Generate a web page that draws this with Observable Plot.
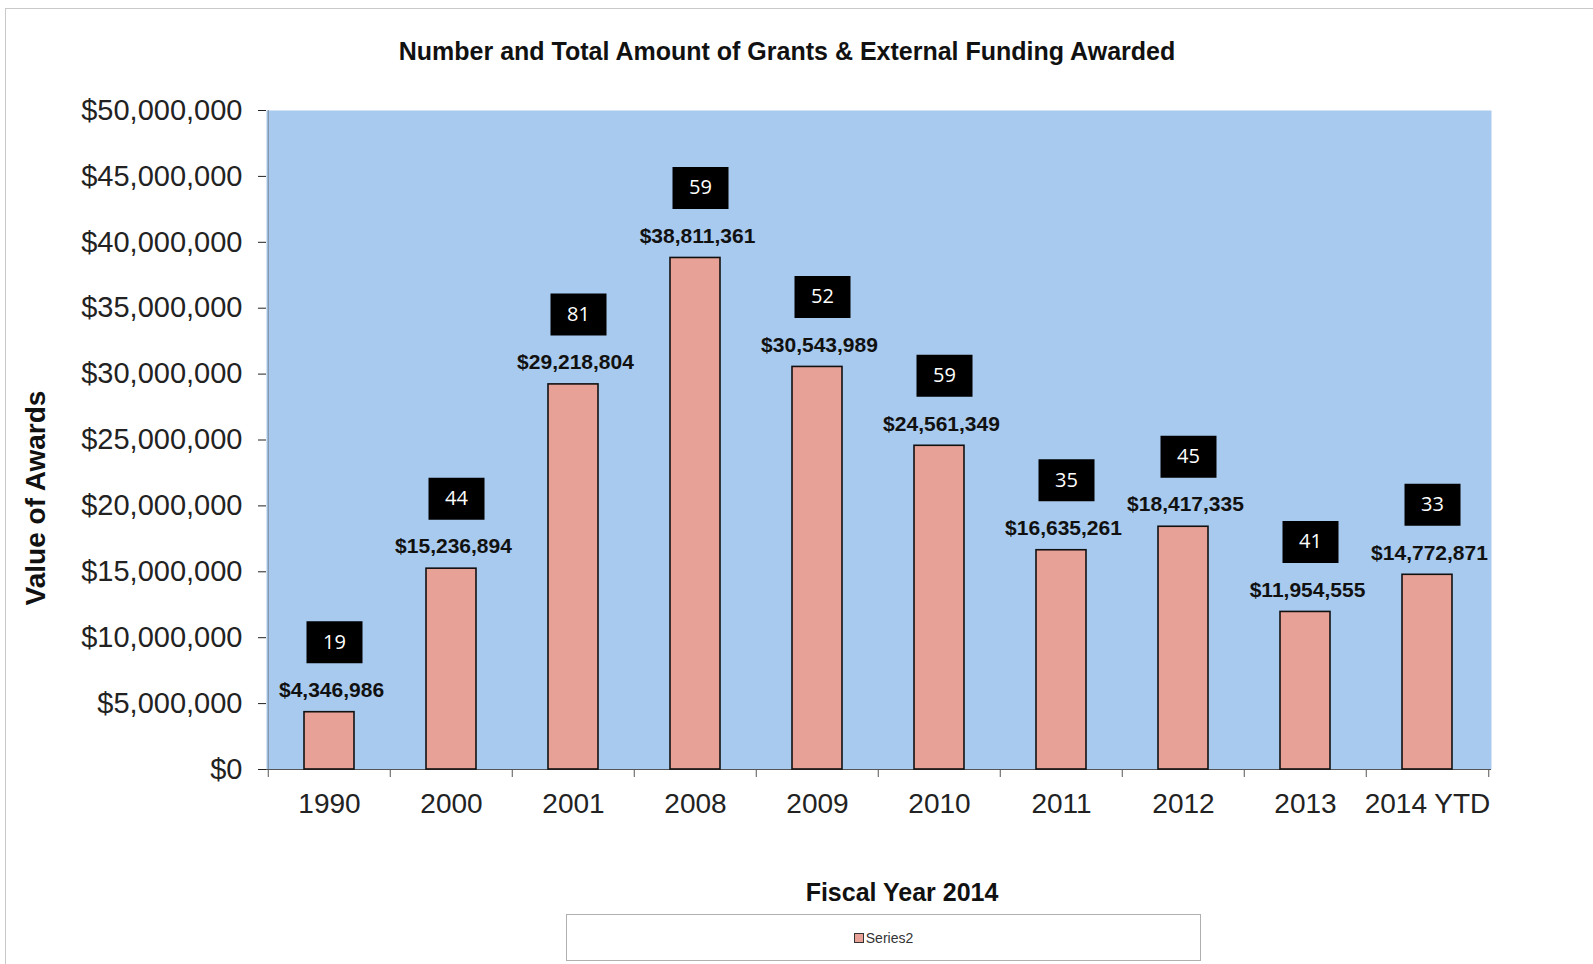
<!DOCTYPE html>
<html>
<head>
<meta charset="utf-8">
<script src="https://cdn.jsdelivr.net/npm/d3@7"></script>
<script src="https://cdn.jsdelivr.net/npm/@observablehq/plot@0.6"></script>
<style>
  body { margin: 0; background: #fff; font-family: "Liberation Sans", Arial, sans-serif; }
  #wrap { position: relative; width: 1593px; height: 964px; overflow: hidden; background: #fff; }
  #frame { position: absolute; left: 5px; top: 8px; width: 1700px; height: 1100px; border: 1px solid #c9c9c9; }
  #title { position: absolute; left: 0; width: 1574px; top: 37px; line-height: 28px; text-align: center;
           font-weight: bold; font-size: 25px; color: #111; }
  #chart { position: absolute; left: 0; top: 70px; }
  #legend { position: absolute; left: 566px; top: 914px; width: 635px; height: 47px; box-sizing: border-box;
            border: 1px solid #b0b0b0; display: flex; align-items: center; justify-content: center;
            font-size: 14px; color: #333; }
  #legend .sw { display: inline-block; width: 8px; height: 8px; background: #e8a196; border: 1.5px solid #333; margin-right: 2px; }
</style>
</head>
<body>
<div id="wrap">
  <div id="frame"></div>
  <div id="title">Number and Total Amount of Grants &amp; External Funding Awarded</div>
  <div id="chart"></div>
  <div id="legend"><span class="sw"></span><span id="legendText"></span></div>
</div>
<script>
// ---- data ----
const years = ["1990", "2000", "2001", "2008", "2009", "2010", "2011", "2012", "2013", "2014 YTD"];
const awardValues = [4346986, 15236894, 29218804, 38811361, 30543989, 24561349, 16635261, 18417335, 11954555, 14772871];
const awardCounts = [19, 44, 81, 59, 52, 59, 35, 45, 41, 33];
const yTicks = [0, 5000000, 10000000, 15000000, 20000000, 25000000, 30000000, 35000000, 40000000, 45000000, 50000000];
const seriesName = "Series2";
const yTitle = "Value of Awards";
const xTitle = "Fiscal Year 2014";

const rows = years.map((y, i) => ({year: y, value: awardValues[i], count: awardCounts[i]}));
document.getElementById("legendText").textContent = seriesName;

// ---- layout ----
const W = 1593, H = 840;
const mL = 266, mR = 102, mT = 40, mB = 141;
const step = (W - mL - mR) / years.length;
const fmtMoney = d3.format("$,");
const font = '"Liberation Sans", Arial, sans-serif';

const boxSymbol = { draw(ctx) { ctx.rect(-28, -21, 56, 42); } };

const chart = Plot.plot({
  width: W, height: H,
  marginLeft: mL, marginRight: mR, marginTop: mT, marginBottom: mB,
  style: { fontFamily: font, background: "transparent", overflow: "visible" },
  x: { type: "band", domain: years, paddingInner: 0.59, paddingOuter: 0.295, align: 0.5, label: null },
  y: { domain: [0, 50000000], label: null },
  marks: [
    Plot.frame({ fill: "#a8caee", stroke: null }),
    Plot.ruleX([years[0]], { dx: -step / 2, stroke: "#7a8a9a", strokeWidth: 1 }),
    Plot.ruleY([0], { stroke: "#555", strokeWidth: 1.2 }),
    Plot.ruleX(years, { x: d => d, dx: -step / 2, y1: 0, y2: 0, insetBottom: -8, stroke: "#555" }),
    Plot.ruleX([years[years.length - 1]], { dx: step / 2, y1: 0, y2: 0, insetBottom: -8, stroke: "#555" }),
    Plot.axisY({ ticks: yTicks, tickFormat: fmtMoney, tickSize: 8, tickPadding: 16, fontSize: 29,
                 color: "#222", label: null }),
    Plot.axisX({ tickSize: 0, tickPadding: 24, fontSize: 28, color: "#222", label: null }),
    Plot.barY(rows, { x: "year", y: "value", fill: "#e8a196", stroke: "#111", strokeWidth: 1.6 }),
    Plot.text(rows, { x: "year", y: "value", text: d => fmtMoney(d.value), dy: -22, dx: 2,
                      fontSize: 21, fontWeight: "bold", fill: "#111", lineAnchor: "middle" }),
    Plot.dot(rows, { x: "year", y: "value", symbol: boxSymbol, r: 10, fill: "#000", stroke: null, dy: -70, dx: 5 }),
    Plot.text(rows, { x: "year", y: "value", text: d => String(d.count), dy: -70, dx: 5,
                      fontSize: 20, fill: "#fff", lineAnchor: "middle", fontFamily: "'Open Sans', sans-serif" }),
    Plot.text([yTitle], { frameAnchor: "left", dx: -230, dy: 58, rotate: -90, fontSize: 28, fontWeight: "bold",
                          fill: "#111", lineAnchor: "middle", textAnchor: "middle" }),
    Plot.text([xTitle], { frameAnchor: "bottom", dx: 23, dy: 123, fontSize: 25, fontWeight: "bold",
                          fill: "#111", lineAnchor: "middle" })
  ]
});
document.getElementById("chart").appendChild(chart);
</script>
</body>
</html>
